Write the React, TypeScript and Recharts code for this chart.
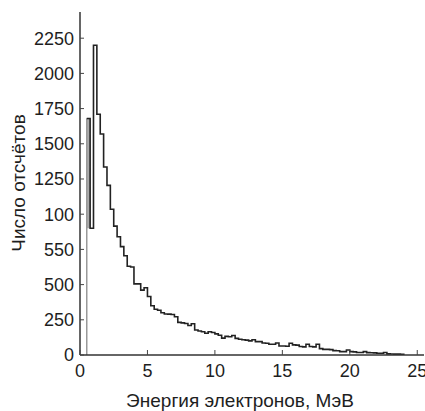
import React from 'react';
import { ComposedChart, Line, Area, XAxis, YAxis } from 'recharts';

// Histogram of electron energies: bin start, bin width, counts per bin
const binStart = 0.5;
const binWidth = 0.25;
const counts = [
  1680, 900, 2200, 1710, 1570, 1335, 1205, 1035, 915, 840,
  770, 705, 630, 625, 505, 505, 461, 478, 415, 350,
  325, 318, 300, 291, 290, 288, 272, 232, 228, 224,
  210, 222, 178, 170, 165, 155, 165, 160, 150, 140,
  120, 132, 130, 138, 118, 112, 108, 106, 100, 108,
  95, 95, 85, 83, 76, 76, 85, 64, 64, 62,
  83, 72, 70, 60, 58, 76, 60, 58, 76, 45,
  40, 40, 38, 31, 30, 24, 24, 36, 24, 22,
  18, 18, 24, 17, 16, 15, 12, 12, 18, 8,
  7, 6, 6, 5,
];

// Grey first bin (range fill) and its grey left edge
const greyBinRange = [900, 1680];
const greyEdge = [0, 1680];

const xTicks = [0, 5, 10, 15, 20, 25];
const xTickLabels = ['0', '5', '10', '15', '20', '25'];
const yTicks = [0, 250, 500, 750, 1000, 1250, 1500, 1750, 2000, 2250];
const yTickLabels = ['0', '250', '500', '550', '100', '1250', '1500', '1750', '2000', '2250'];

const xTitle = 'Энергия электронов, МэВ';
const yTitle = 'Число отсчётов';

const histData = [
  ...counts.map((c, k) => ({ e: binStart + k * binWidth, v: c })),
  { e: binStart + counts.length * binWidth, v: 0 },
];
const greyFillData = [
  { e: binStart, r: greyBinRange },
  { e: binStart + binWidth, r: greyBinRange },
];
const greyEdgeData = greyEdge.map((v) => ({ e: binStart, v }));

const FONT = '"Liberation Sans", Arial, sans-serif';
const TEXT = '#1e1e1e';

const YTick = (props: any) => {
  const { x, y, payload } = props;
  const i = yTicks.indexOf(payload.value);
  return (
    <g>
      <line x1={x} x2={x + 4} y1={y} y2={y} stroke="#444" strokeWidth={1} />
      <text x={x - 6} y={y} dy="0.36em" textAnchor="end" fontSize={18} fontFamily={FONT} fill={TEXT}>
        {i >= 0 ? yTickLabels[i] : payload.value}
      </text>
    </g>
  );
};

const XTick = (props: any) => {
  const { x, y, payload } = props;
  const i = xTicks.indexOf(payload.value);
  return (
    <g>
      <line x1={x} x2={x} y1={y} y2={y - 5} stroke="#444" strokeWidth={1} />
      <text x={x} y={y + 22} textAnchor="middle" fontSize={18} fontFamily={FONT} fill={TEXT}>
        {i >= 0 ? xTickLabels[i] : payload.value}
      </text>
    </g>
  );
};

export default function App() {
  return (
    <div style={{ position: 'absolute', left: 0, top: 0, width: 425, height: 411 }}>
      <ComposedChart width={425} height={411} margin={{ top: 12, right: 1, bottom: 26, left: 0 }}>
        <XAxis
          xAxisId="main"
          dataKey="e"
          type="number"
          domain={[0, 25.5]}
          ticks={xTicks}
          interval={0}
          height={30}
          tickSize={0}
          tickMargin={0}
          tickLine={false}
          tick={<XTick />}
          axisLine={{ stroke: '#333', strokeWidth: 1.5 }}
          allowDataOverflow
        />
        <XAxis
          xAxisId="top"
          orientation="top"
          type="number"
          domain={[0, 25.5]}
          height={0}
          tick={false}
          tickLine={false}
          axisLine={{ stroke: '#777', strokeWidth: 1 }}
        />
        <YAxis
          yAxisId="main"
          type="number"
          domain={[0, 2436]}
          ticks={yTicks}
          interval={0}
          width={80}
          tickSize={0}
          tickMargin={0}
          tickLine={false}
          tick={<YTick />}
          axisLine={{ stroke: '#333', strokeWidth: 1.5 }}
          allowDataOverflow
        />
        <Area
          xAxisId="main"
          yAxisId="main"
          data={greyFillData}
          dataKey="r"
          type="linear"
          fill="#aaaaaa"
          fillOpacity={1}
          stroke="none"
          isAnimationActive={false}
        />
        <Line
          xAxisId="main"
          yAxisId="main"
          data={greyEdgeData}
          dataKey="v"
          type="linear"
          stroke="#999"
          strokeWidth={1.5}
          dot={false}
          activeDot={false}
          isAnimationActive={false}
        />
        <Line
          xAxisId="main"
          yAxisId="main"
          data={histData}
          dataKey="v"
          type="stepAfter"
          stroke="#222"
          strokeWidth={1.6}
          dot={false}
          activeDot={false}
          isAnimationActive={false}
        />
      </ComposedChart>
      <svg width={425} height={411} style={{ position: 'absolute', left: 0, top: 0, pointerEvents: 'none' }}>
        <text x={240} y={407} textAnchor="middle" fontSize={19} fontFamily={FONT} fill={TEXT}>
          {xTitle}
        </text>
        <text
          x={0}
          y={0}
          transform="translate(25,183) rotate(-90)"
          textAnchor="middle"
          fontSize={19}
          fontFamily={FONT}
          fill={TEXT}
        >
          {yTitle}
        </text>
      </svg>
    </div>
  );
}
